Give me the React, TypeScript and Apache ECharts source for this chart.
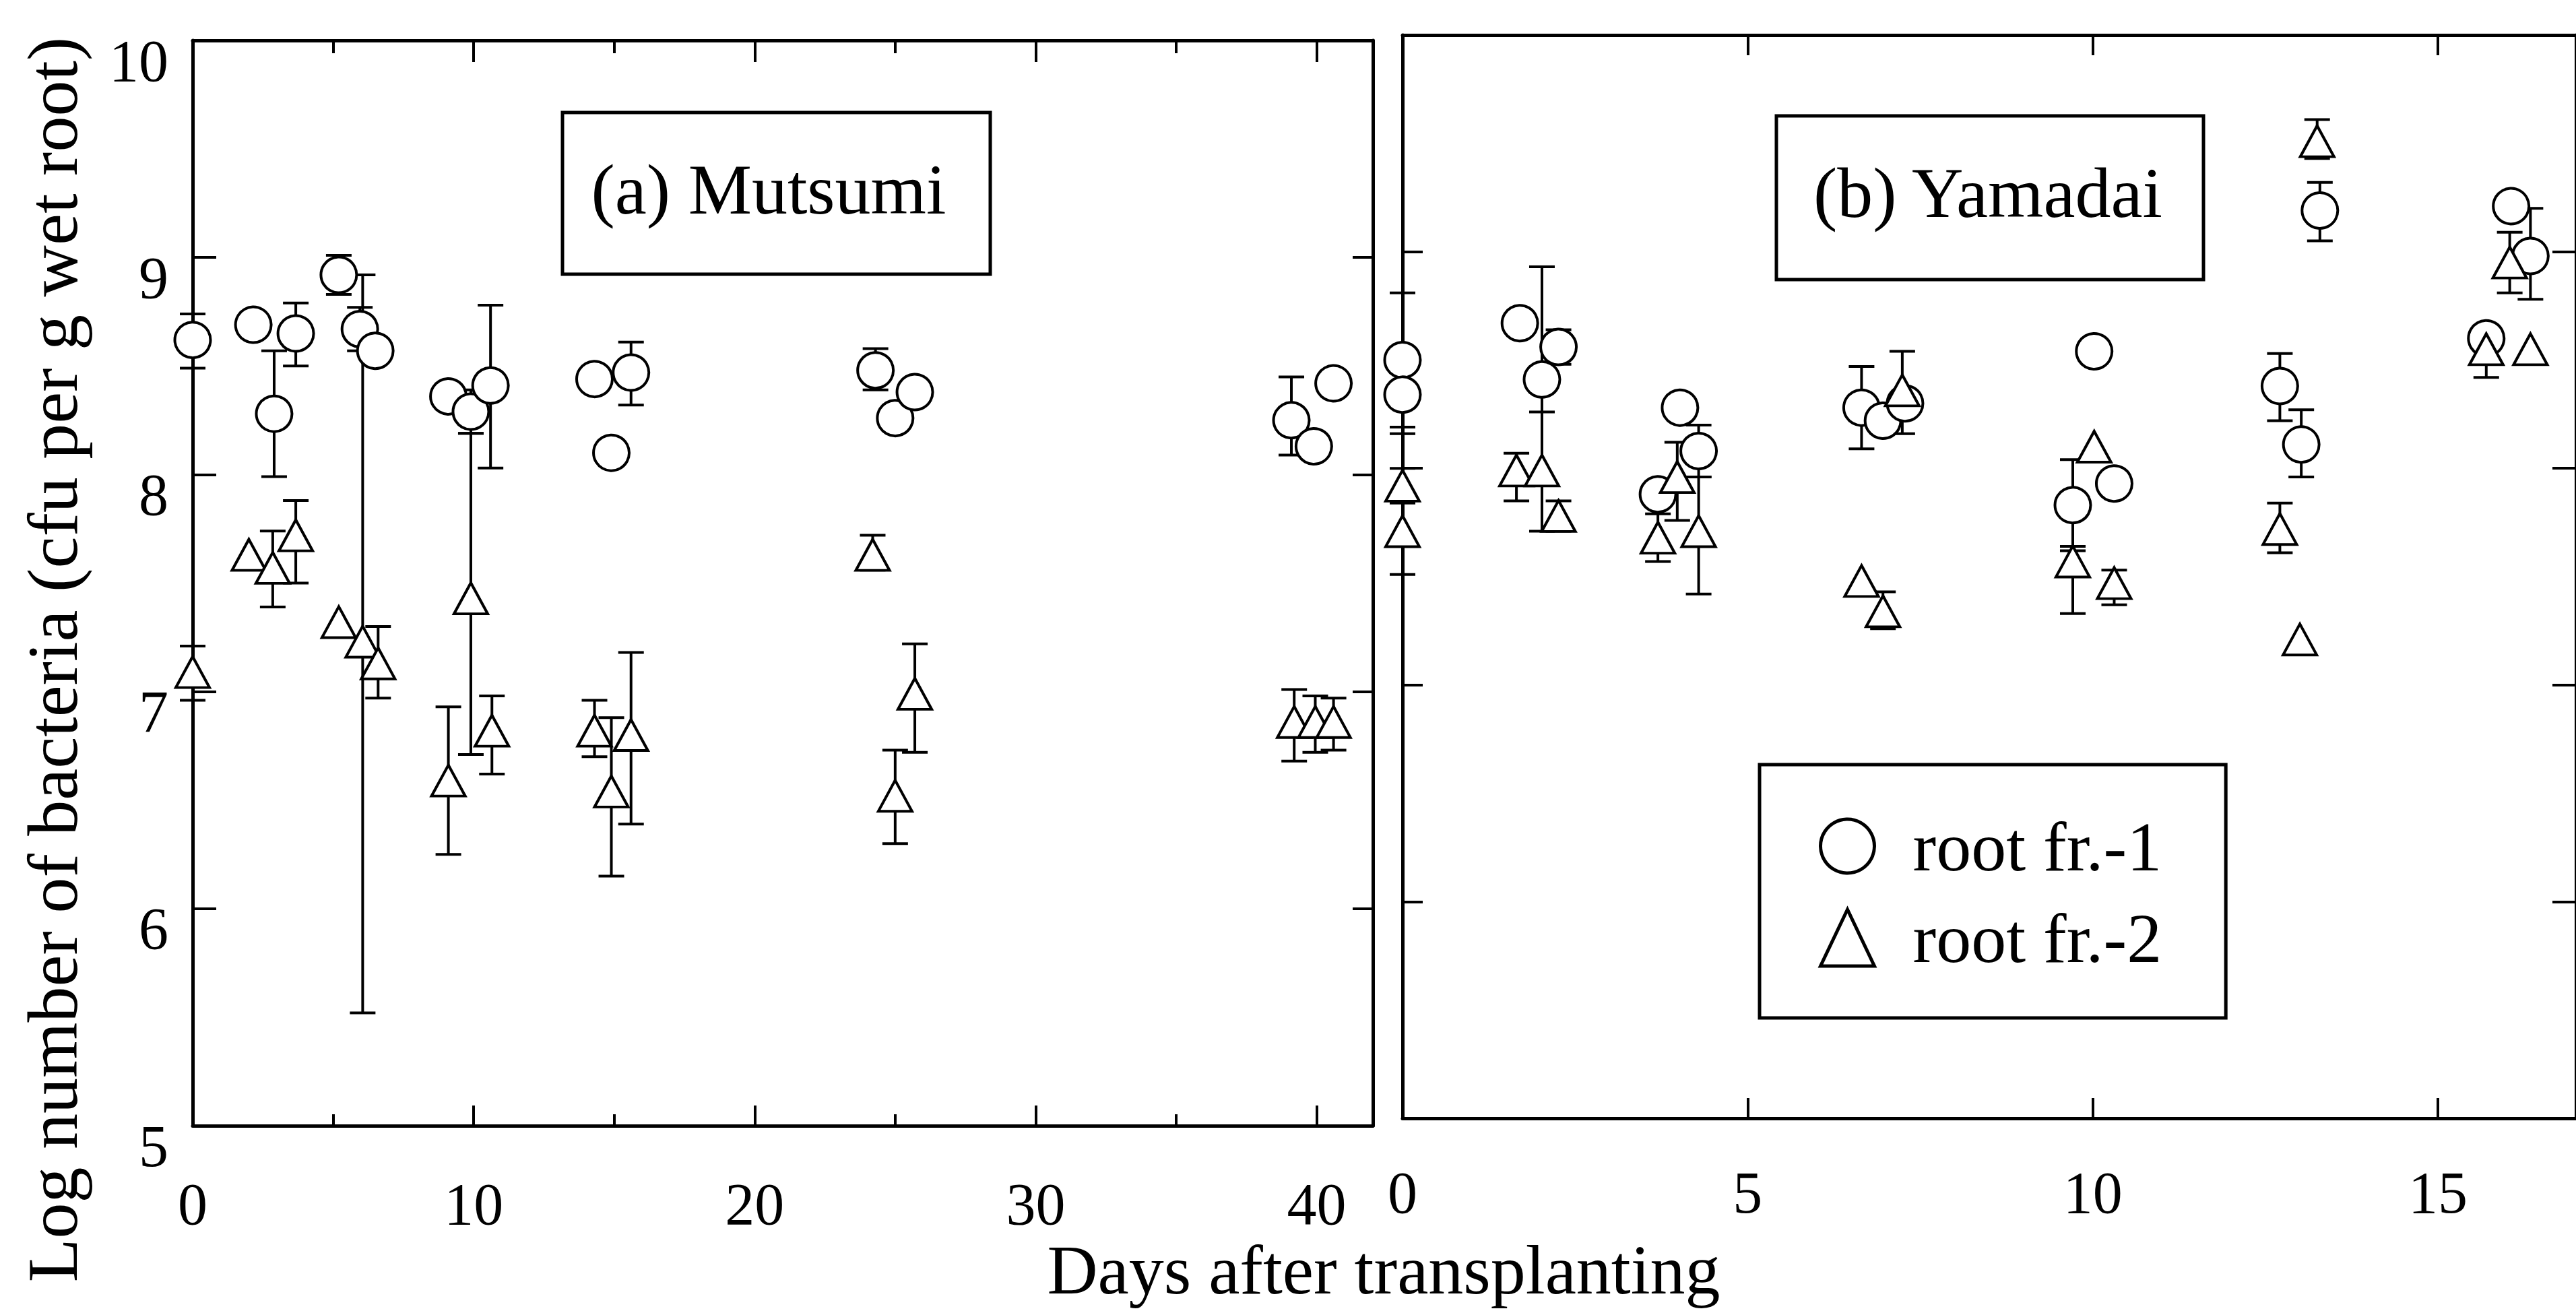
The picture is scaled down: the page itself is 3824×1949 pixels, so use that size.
import React, { useEffect, useRef } from "react";
import * as echarts from "echarts";

const FONT = '"Liberation Serif", "Times New Roman", serif';

// ---------- data: (a) Mutsumi ----------
const mutsumiFr1: number[][] = [
  [0, 8.62], [2.16, 8.69], [2.9, 8.28], [3.67, 8.65], [5.2, 8.92], [5.95, 8.67], [6.5, 8.57],
  [9.1, 8.36], [9.9, 8.29], [10.6, 8.41], [14.3, 8.44], [14.9, 8.1], [15.6, 8.47],
  [24.3, 8.48], [25.0, 8.26], [25.7, 8.38], [39.1, 8.25], [39.9, 8.13], [40.6, 8.42],
];
const mutsumiFr1Err: number[][] = [
  [0, 8.49, 8.74], [2.9, 7.99, 8.57], [3.67, 8.5, 8.79], [5.2, 8.83, 9.01], [5.95, 8.57, 8.77],
  [9.9, 8.19, 8.39], [10.6, 8.03, 8.78], [15.6, 8.32, 8.61], [24.3, 8.39, 8.58], [39.1, 8.09, 8.45],
];
const mutsumiFr2: number[][] = [
  [0, 7.09], [2.0, 7.63], [2.85, 7.57], [3.67, 7.72], [5.2, 7.32], [6.05, 7.23], [6.6, 7.13],
  [9.1, 6.59], [9.9, 7.43], [10.65, 6.82], [14.3, 6.82], [14.9, 6.54], [15.6, 6.8],
  [24.2, 7.63], [25.0, 6.52], [25.7, 6.99], [39.2, 6.86], [39.95, 6.86], [40.6, 6.86],
];
const mutsumiFr2Err: number[][] = [
  [0, 6.96, 7.21], [2.85, 7.39, 7.74], [3.67, 7.5, 7.88], [6.05, 5.52, 8.92], [6.6, 6.97, 7.3],
  [9.1, 6.25, 6.93], [9.9, 6.71, 8.19], [10.65, 6.62, 6.98], [14.3, 6.7, 6.96], [14.9, 6.15, 6.88],
  [15.6, 6.39, 7.18], [24.2, 7.56, 7.72], [25.0, 6.3, 6.73], [25.7, 6.72, 7.22], [39.2, 6.68, 7.01],
  [39.95, 6.72, 6.98], [40.6, 6.73, 6.97],
];

// ---------- data: (b) Yamadai ----------
const yamadaiFr1: number[][] = [
  [0, 8.5], [0, 8.34], [1.7, 8.67], [2.26, 8.56], [2.02, 8.41], [4.02, 8.28], [4.29, 8.08],
  [3.7, 7.88], [6.65, 8.28], [6.96, 8.22], [7.28, 8.3], [10.02, 8.54], [10.31, 7.93], [9.71, 7.83],
  [12.71, 8.38], [13.02, 8.11], [13.29, 9.19], [16.06, 9.21], [16.34, 8.98], [15.7, 8.6],
];
const yamadaiFr1Err: number[][] = [
  [0, 8.19, 8.81], [0, 8.16, 8.5], [2.26, 8.48, 8.64], [2.02, 7.92, 8.93], [4.29, 7.96, 8.2],
  [6.65, 8.09, 8.47], [9.71, 7.62, 8.04], [12.71, 8.22, 8.53], [13.02, 7.96, 8.27],
  [13.29, 9.05, 9.32], [16.34, 8.78, 9.2],
];
const yamadaiFr2: number[][] = [
  [0, 7.92], [0, 7.71], [1.65, 7.99], [2.02, 7.99], [2.26, 7.78], [3.98, 7.96], [3.7, 7.68],
  [4.29, 7.71], [7.24, 8.36], [6.65, 7.48], [6.96, 7.34], [10.02, 8.1], [9.71, 7.57], [10.31, 7.47],
  [12.71, 7.72], [13.0, 7.21], [13.25, 9.51], [16.04, 8.95], [15.7, 8.55], [16.34, 8.55],
];
const yamadaiFr2Err: number[][] = [
  [0, 7.84, 8.0], [0, 7.51, 7.85], [1.65, 7.85, 8.07], [2.02, 7.71, 8.26], [2.26, 7.71, 7.85],
  [3.98, 7.76, 8.12], [3.7, 7.57, 7.79], [4.29, 7.42, 7.96], [7.24, 8.16, 8.54], [6.96, 7.26, 7.43],
  [9.71, 7.33, 7.64], [10.31, 7.37, 7.53], [12.71, 7.61, 7.84], [13.25, 9.43, 9.61],
  [16.04, 8.81, 9.09], [15.7, 8.42, 8.64],
];

// ---------- axis ticks / labels ----------
const leftMajorTicks = [0, 10, 20, 30, 40];
const leftMinorTicks = [5, 15, 25, 35];
const rightTicks = [0, 5, 10, 15];
const NAME1 = "root fr.-1";
const NAME2 = "root fr.-2";

const BLACK = "#000";
const lineStyle = { color: BLACK, width: 5 };
const tickStyle = { color: BLACK, width: 4 };

function errRender(params: any, api: any) {
  const x = api.value(0);
  const p1 = api.coord([x, api.value(1)]);
  const p2 = api.coord([x, api.value(2)]);
  const w = 19;
  const st = { stroke: BLACK, lineWidth: 4 };
  return {
    type: "group",
    children: [
      { type: "line", shape: { x1: p1[0], y1: p1[1], x2: p2[0], y2: p2[1] }, style: st },
      { type: "line", shape: { x1: p1[0] - w, y1: p1[1], x2: p1[0] + w, y2: p1[1] }, style: st },
      { type: "line", shape: { x1: p2[0] - w, y1: p2[1], x2: p2[0] + w, y2: p2[1] }, style: st },
    ],
  };
}

function xAx(grid: number, max: number, pos: string, ticks: number[], len: number, line: boolean, labels: boolean, margin = 72) {
  return {
    gridIndex: grid, type: "value", min: 0, max, position: pos,
    axisLine: { show: line, onZero: false, lineStyle },
    axisTick: { show: true, inside: true, length: len, lineStyle: tickStyle, customValues: ticks },
    axisLabel: labels
      ? { show: true, customValues: ticks, fontSize: 88, fontFamily: FONT, color: BLACK, margin }
      : { show: false },
    splitLine: { show: false },
  };
}

function yAx(grid: number, pos: string, len: number, labels: boolean) {
  return {
    gridIndex: grid, type: "value", min: 5, max: 10, interval: 1, position: pos,
    axisLine: { show: true, onZero: false, lineStyle },
    axisTick: { show: true, inside: true, length: len, lineStyle: tickStyle },
    axisLabel: labels
      ? { show: true, fontSize: 88, fontFamily: FONT, color: BLACK, margin: 36, verticalAlign: "top", lineHeight: 60 }
      : { show: false },
    splitLine: { show: false },
  };
}

function scatter(name: string, data: number[][], xi: number, yi: number, tri: boolean) {
  return {
    type: "scatter", name, data, xAxisIndex: xi, yAxisIndex: yi,
    symbol: tri ? "triangle" : "circle",
    symbolSize: tri ? [50, 46] : 53,
    itemStyle: { color: "#fff", borderColor: BLACK, borderWidth: 4, opacity: 1 },
    clip: false, silent: true, z: 5,
  };
}

function errSeries(data: number[][], xi: number, yi: number) {
  return {
    type: "custom", data, xAxisIndex: xi, yAxisIndex: yi,
    encode: { x: 0, y: [1, 2] }, renderItem: errRender, silent: true, clip: false, z: 3,
  };
}

function textEl(text: string, x: number, y: number, size: number, rotation = 0) {
  return {
    type: "text", x, y, rotation, z: 20,
    style: {
      text, fill: BLACK, font: `${size}px ${FONT}`,
      align: "center", verticalAlign: "middle", textAlign: "center", textVerticalAlign: "middle",
    },
  };
}

export default function App() {
  const ref = useRef<HTMLDivElement>(null);
  useEffect(() => {
    if (!ref.current) return;
    const chart = echarts.init(ref.current, undefined, { renderer: "svg" });
    chart.setOption({
      animation: false,
      backgroundColor: "#fff",
      grid: [
        { left: 286, top: 60, width: 1752, height: 1611 },
        { left: 2082, top: 52, width: 1760, height: 1608 },
      ],
      xAxis: [
        xAx(0, 42, "bottom", leftMajorTicks, 30, true, true, 72),
        xAx(0, 42, "bottom", leftMinorTicks, 17, false, false),
        xAx(0, 42, "top", leftMajorTicks, 32, true, false),
        xAx(0, 42, "top", leftMinorTicks, 19, false, false),
        xAx(1, 17, "bottom", rightTicks, 30, true, true, 66),
        xAx(1, 17, "top", rightTicks, 30, true, false),
      ],
      yAxis: [
        yAx(0, "left", 35, true),
        yAx(0, "right", 30, false),
        yAx(1, "left", 30, false),
        yAx(1, "right", 35, false),
      ],
      legend: {
        data: [NAME1, NAME2],
        orient: "vertical",
        left: 2612, top: 1135,
        padding: [69, 95, 67, 88],
        itemGap: 32, itemWidth: 80, itemHeight: 84,
        borderColor: BLACK, borderWidth: 5, backgroundColor: "#fff",
        selectedMode: false,
        itemStyle: { color: "#fff", borderColor: BLACK, borderWidth: 5 },
        textStyle: { fontSize: 104, fontFamily: FONT, color: BLACK, lineHeight: 84, padding: [0, 0, 0, 52] },
      },
      graphic: [
        { type: "rect", z: 15, shape: { x: 835, y: 167, width: 635, height: 240 }, style: { fill: "#fff", stroke: BLACK, lineWidth: 5 } },
        textEl("(a) Mutsumi", 1141, 281, 106),
        { type: "rect", z: 15, shape: { x: 2637, y: 172, width: 634, height: 243 }, style: { fill: "#fff", stroke: BLACK, lineWidth: 5 } },
        textEl("(b) Yamadai", 2951, 286, 106),
        textEl("Days after transplanting", 2054, 1884, 104),
        textEl("Log number of bacteria (cfu per g wet root)", 78, 979, 106, Math.PI / 2),
      ],
      series: [
        errSeries(mutsumiFr1Err, 0, 0),
        errSeries(mutsumiFr2Err, 0, 0),
        errSeries(yamadaiFr1Err, 4, 2),
        errSeries(yamadaiFr2Err, 4, 2),
        scatter(NAME1, mutsumiFr1, 0, 0, false),
        scatter(NAME2, mutsumiFr2, 0, 0, true),
        scatter(NAME1, yamadaiFr1, 4, 2, false),
        scatter(NAME2, yamadaiFr2, 4, 2, true),
      ],
    });
    return () => chart.dispose();
  }, []);
  return (
    <div
      ref={ref}
      style={{ position: "absolute", left: 0, top: 0, width: 3824, height: 1949, background: "#fff" }}
    />
  );
}
